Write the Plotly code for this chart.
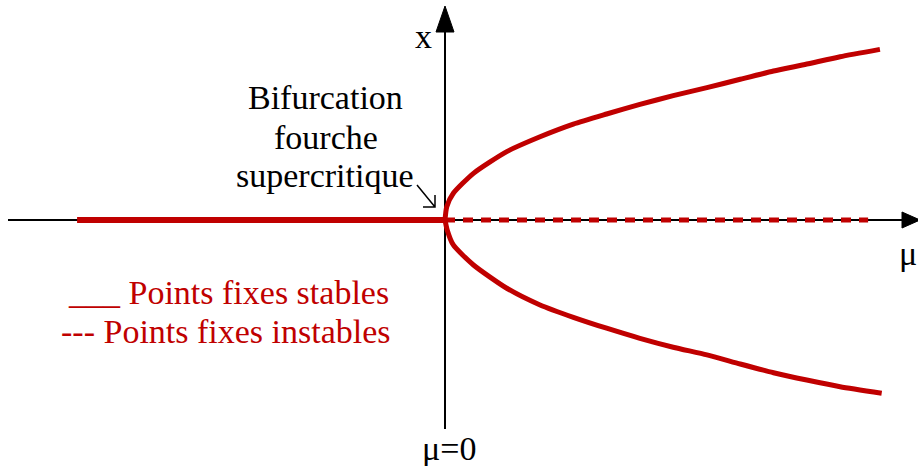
import plotly.graph_objects as go

# Pitchfork (supercritical) bifurcation diagram: fixed points x* versus mu

# Stable branch for mu < 0 (x* = 0)
mu_stable_left = [-0.840, 0.0]
x_stable_left = [0.0, 0.0]

# Upper stable branch for mu > 0
mu_upper = [0.0, 0.004, 0.019, 0.065, 0.141, 0.217, 0.293, 0.369, 0.445,
            0.521, 0.598, 0.674, 0.750, 0.826, 0.902, 0.993]
x_upper = [0.0, 0.078, 0.156, 0.273, 0.400, 0.487, 0.561, 0.620, 0.676,
           0.727, 0.774, 0.823, 0.871, 0.912, 0.955, 0.998]

# Lower stable branch for mu > 0
mu_lower = [0.0, 0.005, 0.019, 0.065, 0.141, 0.217, 0.293, 0.369, 0.445,
            0.521, 0.598, 0.674, 0.750, 0.826, 0.902, 0.997]
x_lower = [0.0, -0.058, -0.146, -0.263, -0.399, -0.497, -0.569, -0.633, -0.692,
           -0.744, -0.789, -0.842, -0.893, -0.936, -0.975, -1.013]

# Unstable branch for mu > 0 (x* = 0)
mu_unstable = [0.0, 0.966]
x_unstable = [0.0, 0.0]

RED = "#C00000"
SERIF = "Liberation Serif, Times New Roman, serif"

# Drawing frame (data units) and pixel scale of each axis
W, H = 918, 466
PX_MU = 438.0          # pixels per unit of mu
PX_X = 171.0           # pixels per unit of x
MU_MIN, MU_MAX = -445 / PX_MU, (W - 445) / PX_MU
X_MIN, X_MAX = -(H - 220) / PX_X, 220 / PX_X

fig = go.Figure()

fig.add_trace(go.Scatter(x=mu_stable_left, y=x_stable_left, mode="lines",
                         line=dict(color=RED, width=6), hoverinfo="skip"))
fig.add_trace(go.Scatter(x=mu_unstable, y=x_unstable, mode="lines",
                         line=dict(color=RED, width=5, dash="10px,8px"),
                         hoverinfo="skip"))
fig.add_trace(go.Scatter(x=mu_upper, y=x_upper, mode="lines",
                         line=dict(color=RED, width=5, shape="spline", smoothing=0.6),
                         hoverinfo="skip"))
fig.add_trace(go.Scatter(x=mu_lower, y=x_lower, mode="lines",
                         line=dict(color=RED, width=5, shape="spline", smoothing=0.6),
                         hoverinfo="skip"))

# Coordinate axes with arrow heads
mu_axis_start = -437 / PX_MU
mu_head_base, mu_head_tip = 902 / PX_MU - 445 / PX_MU, 920 / PX_MU - 445 / PX_MU
mu_head_half = 8 / PX_X
x_axis_bottom = -209 / PX_X
x_head_base, x_head_tip = 188 / PX_X, 214 / PX_X
x_head_half = 9 / PX_MU

shapes = [
    dict(type="line", x0=mu_axis_start, y0=0, x1=mu_head_base, y1=0,
         line=dict(color="black", width=2), layer="below"),
    dict(type="path",
         path=f"M {mu_head_base} {-mu_head_half} L {mu_head_tip} 0 L {mu_head_base} {mu_head_half} Z",
         fillcolor="black", line=dict(color="black", width=1)),
    dict(type="line", x0=0, y0=x_axis_bottom, x1=0, y1=x_head_base,
         line=dict(color="black", width=2), layer="below"),
    dict(type="path",
         path=f"M {-x_head_half} {x_head_base} L 0 {x_head_tip} L {x_head_half} {x_head_base} Z",
         fillcolor="black", line=dict(color="black", width=1)),
]

# Pointer from the label to the bifurcation point
p0 = (-28 / PX_MU, 35 / PX_X)
p1 = (-10 / PX_MU, 13 / PX_X)
hx, hy = 12 / PX_MU, 12 / PX_X
shapes.append(dict(
    type="path",
    path=(f"M {p0[0]} {p0[1]} L {p1[0]} {p1[1]} "
          f"M {p1[0] - hx} {p1[1]} L {p1[0]} {p1[1]} L {p1[0]} {p1[1] + hy}"),
    line=dict(color="black", width=1.5)))

FS = 34


def px_mu(px):
    return (px - 445) / PX_MU


def px_x(py):
    return (220 - py) / PX_X


annotations = [
    dict(x=px_mu(423), y=px_x(36), text="x", showarrow=False,
         font=dict(family=SERIF, size=FS, color="black")),
    dict(x=px_mu(325), y=px_x(97), text="Bifurcation", showarrow=False,
         font=dict(family=SERIF, size=FS, color="black")),
    dict(x=px_mu(326), y=px_x(137), text="fourche", showarrow=False,
         font=dict(family=SERIF, size=FS, color="black")),
    dict(x=px_mu(325), y=px_x(175), text="supercritique", showarrow=False,
         font=dict(family=SERIF, size=FS, color="black")),
    dict(x=px_mu(449), y=px_x(448), text="μ=0", showarrow=False,
         font=dict(family=SERIF, size=FS, color="black")),
    dict(x=px_mu(897), y=px_x(253), text="μ", showarrow=False, xanchor="left",
         font=dict(family=SERIF, size=FS, color="black")),
    dict(x=px_mu(66), y=px_x(292), text="___ Points fixes stables", showarrow=False,
         xanchor="left", font=dict(family=SERIF, size=FS, color=RED)),
    dict(x=px_mu(59), y=px_x(331), text="--- Points fixes instables", showarrow=False,
         xanchor="left", font=dict(family=SERIF, size=FS, color=RED)),
]

fig.update_layout(
    width=W, height=H,
    margin=dict(l=0, r=0, t=0, b=0),
    paper_bgcolor="white", plot_bgcolor="white",
    showlegend=False,
    shapes=shapes,
    annotations=annotations,
    xaxis=dict(range=[MU_MIN, MU_MAX], visible=False, fixedrange=True),
    yaxis=dict(range=[X_MIN, X_MAX], visible=False, fixedrange=True),
)

fig.write_html("out.html")
